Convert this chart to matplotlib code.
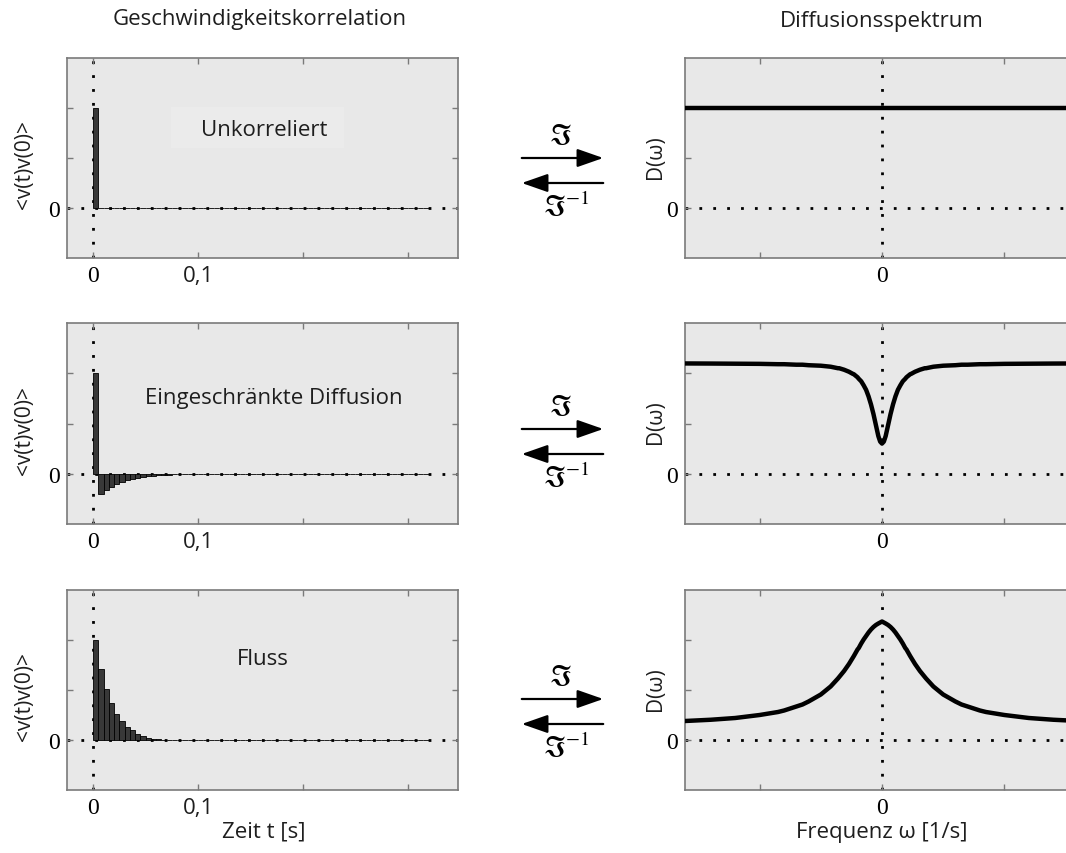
# -*- coding: utf-8 -*-
import matplotlib
matplotlib.use('Agg')
import matplotlib.pyplot as plt
from matplotlib.patches import FancyArrowPatch, Rectangle

# Geschwindigkeitskorrelation (Balken, Breite 5 ms)
BAR_WIDTH = 0.005
N_BARS = 64
vacf_unkorreliert = [2.0]
vacf_eingeschraenkt = [2.0, -0.41, -0.33, -0.27, -0.21, -0.17, -0.13, -0.10, -0.08,
                       -0.06, -0.05, -0.04, -0.03, -0.02, -0.02, -0.01, -0.01, -0.01]
vacf_fluss = [2.0, 1.43, 1.03, 0.74, 0.53, 0.39, 0.27, 0.20, 0.13, 0.09,
              0.05, 0.03, 0.02, 0.01, 0.01]

# Diffusionsspektrum (symmetrisch um 0)
omega_pos = [0.0, 0.015, 0.03, 0.05, 0.07, 0.09, 0.11, 0.13, 0.15, 0.17, 0.19, 0.2,
             0.23, 0.24, 0.27, 0.29, 0.31, 0.35, 0.36, 0.42, 0.5, 0.6, 0.65, 0.7,
             0.8, 0.85, 1.0, 1.2, 1.4, 1.61]
D_eingeschraenkt_pos = [0.60, 0.64, 0.75, 0.97, 1.19, 1.38, 1.54, 1.67, 1.76, 1.84, 1.89, 1.92,
                        1.98, 1.99, 2.03, 2.05, 2.07, 2.10, 2.10, 2.13, 2.15, 2.16, 2.17, 2.17,
                        2.18, 2.18, 2.187, 2.19, 2.193, 2.195]
D_fluss_pos = [2.37, 2.35, 2.33, 2.30, 2.26, 2.21, 2.15, 2.08, 2.01, 1.93, 1.84, 1.81,
               1.68, 1.64, 1.52, 1.45, 1.38, 1.26, 1.23, 1.07, 0.91, 0.77, 0.71, 0.67,
               0.59, 0.56, 0.50, 0.44, 0.405, 0.38]

omega = [-w for w in omega_pos[:0:-1]] + omega_pos
D_eingeschraenkt = D_eingeschraenkt_pos[:0:-1] + D_eingeschraenkt_pos
D_fluss = D_fluss_pos[:0:-1] + D_fluss_pos
D_unkorreliert = [2.0] * len(omega)

panel_texts = ['Unkorreliert', 'Eingeschränkte Diffusion', 'Fluss']
text_pos = [(0.504, 0.64), (0.53, 0.63), (0.50, 0.655)]
vacf_list = [vacf_unkorreliert, vacf_eingeschraenkt, vacf_fluss]
spec_list = [D_unkorreliert, D_eingeschraenkt, D_fluss]

W, H = 1066, 854
SANS = ['Open Sans', 'DejaVu Sans']
SERIF = ['Liberation Serif', 'DejaVu Serif']
TXT = '#1e1e1e'
plt.rcParams['mathtext.fontset'] = 'stix'

fig = plt.figure(figsize=(W / 100, H / 100), dpi=100)
fig.patch.set_facecolor('white')

rows = [(59, 259), (324, 525), (591, 791)]
arrow_y = [159, 430, 700]


def px_axes(x0, y0, x1, y1):
    return fig.add_axes([x0 / W, 1 - y1 / H, (x1 - x0) / W, (y1 - y0) / H])


def style_axes(ax):
    ax.set_facecolor('#e8e8e8')
    for sp in ax.spines.values():
        sp.set_color('#7a7a7a')
        sp.set_linewidth(1.2)
    ax.tick_params(direction='in', length=4, width=1, color='#7a7a7a',
                   top=True, right=True, pad=5)
    ax.axhline(0, color='black', lw=2, ls=(0, (1, 4)), zorder=1)
    ax.axvline(0, color='black', lw=2, ls=(0, (1, 4)), zorder=1)


def fig_text(x, y, s, **kw):
    fig.text(x / W, 1 - y / H, s, ha='center', va='center', **kw)


for i, (top, bot) in enumerate(rows):
    # links: Korrelation
    ax = px_axes(67, top, 458, bot)
    style_axes(ax)
    vals = vacf_list[i] + [0.0] * (N_BARS - len(vacf_list[i]))
    t = [k * BAR_WIDTH for k in range(N_BARS)]
    ax.bar(t, vals, width=BAR_WIDTH, align='edge', color='#383838',
           edgecolor='black', linewidth=0.6, zorder=2)
    ax.set_xlim(-0.025, 0.348)
    ax.set_ylim(-1, 3)
    ax.set_xticks([0, 0.1, 0.2, 0.3])
    ax.set_xticklabels(['0', '0,1', '', ''])
    ax.set_yticks([0, 1, 2])
    ax.set_yticklabels(['0', '', ''])
    labs = ax.get_xticklabels()
    labs[0].set_family(SERIF)
    labs[0].set_fontsize(17)
    labs[1].set_family(SANS)
    labs[1].set_fontsize(16)
    labs[1].set_color(TXT)
    for lb in ax.get_yticklabels():
        lb.set_family(SERIF)
        lb.set_fontsize(17)
    if i == 0:
        ax.add_patch(Rectangle((0.266, 0.55), 0.442, 0.205, transform=ax.transAxes,
                               facecolor='#ebebeb', edgecolor='none', zorder=0.5))
    tx, ty = text_pos[i]
    ax.text(tx, ty, panel_texts[i], transform=ax.transAxes, ha='center', va='center',
            fontsize=16, family=SANS, color=TXT, zorder=4)
    fig_text(25, (top + bot) / 2 + 6, '<v(t)v(0)>', rotation=90, fontsize=15,
             family=SANS, color=TXT)

    # rechts: Spektrum
    ax2 = px_axes(685, top, 1079, bot)
    style_axes(ax2)
    ax2.plot(omega, spec_list[i], color='black', lw=3.2, zorder=3,
             solid_joinstyle='round')
    ax2.set_xlim(-1.61, 1.61)
    ax2.set_ylim(-1, 3)
    ax2.set_xticks([-1, 0, 1])
    ax2.set_xticklabels(['', '0', ''])
    ax2.set_yticks([0, 1, 2])
    ax2.set_yticklabels(['0', '', ''])
    for lb in ax2.get_xticklabels() + ax2.get_yticklabels():
        lb.set_family(SERIF)
        lb.set_fontsize(17)
    fig_text(655, (top + bot) / 2 - 2, 'D(ω)', rotation=90, fontsize=15,
             family=SANS, color=TXT)

    # Fourier-Pfeile
    ya = arrow_y[i]
    for (xa, xb, yy) in [(519, 606, ya), (606, 519, ya + 25)]:
        fig.add_artist(FancyArrowPatch((xa / W, 1 - yy / H), (xb / W, 1 - yy / H),
                                       transform=fig.transFigure, color='black', lw=1.6,
                                       arrowstyle='-|>,head_length=0.8,head_width=0.28',
                                       mutation_scale=20))
    fig_text(560, ya - 23, r'$\Im$', fontsize=21)
    fig_text(566, ya + 48, r'$\Im^{-1}$', fontsize=21)

fig_text(260, 19, 'Geschwindigkeitskorrelation', fontsize=16, family=SANS, color=TXT)
fig_text(882, 22, 'Diffusionsspektrum', fontsize=16, family=SANS, color=TXT)
fig_text(264, 832, 'Zeit t [s]', fontsize=16, family=SANS, color=TXT)
fig_text(882, 833, 'Frequenz ω [1/s]', fontsize=16, family=SANS, color=TXT)

fig.savefig('out.png', dpi=100)
